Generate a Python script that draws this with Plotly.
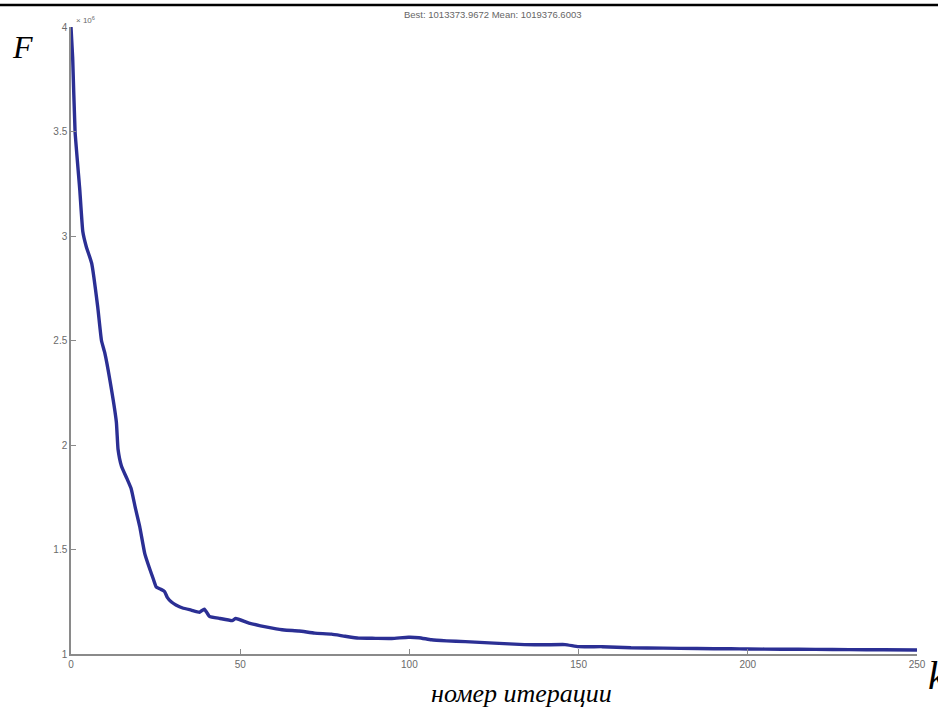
import plotly.graph_objects as go

# iteration number k and objective value F
k_vals = [0, 0.5, 1.2, 2.6, 3.5, 4.5, 6.1, 7.9, 9.0, 10, 11.5, 13.4, 13.9, 14.9, 16.5,
          17.8, 19, 20.3, 21.8, 23.2, 24.3, 25.2, 26.5, 27.6, 28.5, 29.6, 31, 33, 35.5,
          38, 39.4, 40.9, 44, 47.6, 48.7, 52.6, 56, 59.5, 63, 67.4, 72, 77, 81, 85, 90,
          94.8, 99.7, 102.8, 106.5, 111, 116.5, 125, 134, 140, 146, 150, 157, 165.5,
          175, 185, 195, 200, 210, 220, 230, 240, 250]
F_mln = [4.00, 3.85, 3.50, 3.22, 3.02, 2.95, 2.87, 2.66, 2.50, 2.44, 2.31, 2.11, 1.98,
         1.90, 1.84, 1.79, 1.70, 1.61, 1.48, 1.41, 1.36, 1.32, 1.31, 1.30, 1.27, 1.25,
         1.235, 1.22, 1.21, 1.20, 1.215, 1.18, 1.17, 1.16, 1.17, 1.148, 1.135, 1.124,
         1.115, 1.11, 1.10, 1.095, 1.085, 1.076, 1.075, 1.074, 1.08, 1.078, 1.068,
         1.063, 1.059, 1.052, 1.045, 1.044, 1.045, 1.035, 1.035, 1.03, 1.028, 1.026,
         1.025, 1.024, 1.023, 1.022, 1.021, 1.020, 1.019]
F_vals = [v * 1e6 for v in F_mln]

x_ticks = [0, 50, 100, 150, 200, 250]
y_ticks = [1e6, 1.5e6, 2e6, 2.5e6, 3e6, 3.5e6, 4e6]
y_tick_text = ["1", "1.5", "2", "2.5", "3", "3.5", "4"]

title_text = "Best: 1013373.9672 Mean: 1019376.6003"

fig = go.Figure()
fig.add_trace(go.Scatter(x=k_vals, y=F_vals, mode="lines",
                         line=dict(color="#2b2f94", width=3.4, shape="spline", smoothing=0.4),
                         showlegend=False))

axis_common = dict(showgrid=False, zeroline=False, showline=True, linecolor="#8a8a8a",
                   linewidth=1.5, ticks="inside", ticklen=5, tickcolor="#8a8a8a",
                   tickfont=dict(family="Arial, Liberation Sans", size=10, color="#6a6a6a"))

fig.update_layout(
    width=938, height=709,
    margin=dict(l=70.5, r=17.5, t=27, b=55),
    paper_bgcolor="white", plot_bgcolor="white",
    xaxis=dict(range=[0, 250], tickvals=x_ticks, **axis_common),
    yaxis=dict(range=[1e6, 4e6], tickvals=y_ticks, ticktext=y_tick_text, **axis_common),
    annotations=[
        dict(text=title_text, xref="paper", yref="paper", x=0.499, y=1.008,
             xanchor="center", yanchor="bottom", showarrow=False,
             font=dict(family="Arial, Liberation Sans", size=9.5, color="#666666")),
        dict(text="× 10<sup>6</sup>", xref="paper", yref="paper", x=0.004, y=1.0,
             xanchor="left", yanchor="bottom", showarrow=False,
             font=dict(family="Arial, Liberation Sans", size=8, color="#6a6a6a")),
        dict(text="<i>F</i>", xref="paper", yref="paper", x=-0.072, y=1.0,
             xanchor="left", yanchor="top", showarrow=False,
             font=dict(family="Liberation Serif", size=32, color="black")),
        dict(text="<i>номер итерации</i>", xref="paper", yref="paper", x=0.532, y=-0.036,
             xanchor="center", yanchor="top", showarrow=False,
             font=dict(family="Liberation Serif", size=26, color="black")),
        dict(text="<i>k</i>", xref="paper", yref="paper", x=1.011, y=0.004,
             xanchor="left", yanchor="top", showarrow=False,
             font=dict(family="Liberation Serif", size=40, color="black")),
    ],
    shapes=[
        dict(type="line", xref="paper", yref="paper", x0=-0.1, x1=1.1, y0=1.035, y1=1.035,
             line=dict(color="black", width=2.5)),
    ],
)

fig.write_html("out.html", config={"displayModeBar": False},
               post_script="document.body.style.margin='0';document.body.style.overflow='hidden';")
